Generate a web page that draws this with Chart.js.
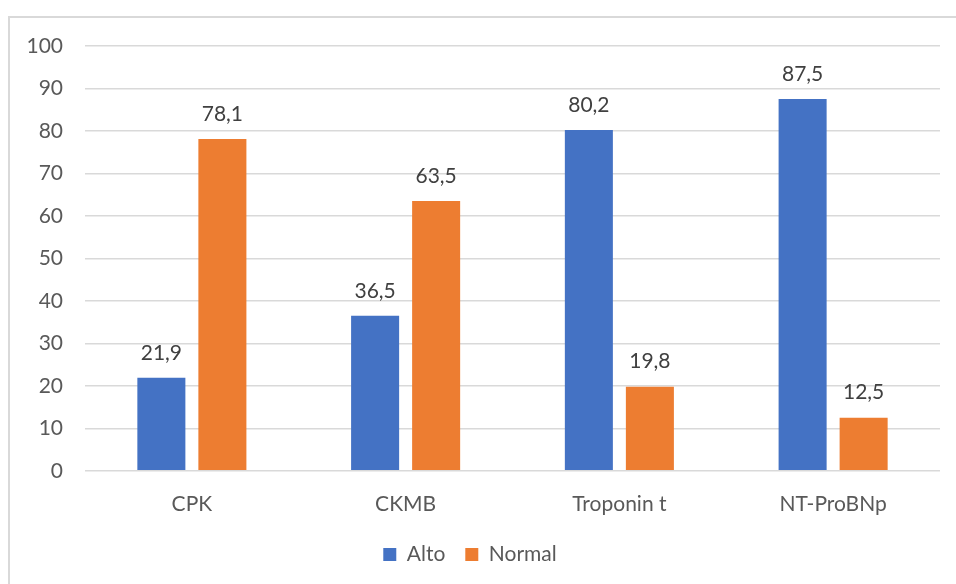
<!DOCTYPE html>
<html>
<head>
<meta charset="utf-8">
<script src="https://cdn.jsdelivr.net/npm/chart.js@4"></script>
<style>
  html, body { margin: 0; padding: 0; background: #fff; }
  #wrap { position: relative; width: 956px; height: 584px; overflow: hidden; }
  #frame { position: absolute; left: 8px; top: 16px; width: 960px; height: 600px;
           border-top: 2px solid #d9d9d9; border-left: 2px solid #d9d9d9; box-sizing: border-box; }
  canvas { position: absolute; left: 0; top: 0; }
</style>
</head>
<body>
<div id="wrap">
  <div id="frame"></div>
  <canvas id="c" width="956" height="584"></canvas>
</div>
<script>
const categories = ['CPK', 'CKMB', 'Troponin t', 'NT-ProBNp'];
const altoValues = [21.9, 36.5, 80.2, 87.5];
const normalValues = [78.1, 63.5, 19.8, 12.5];
const seriesNames = ['Alto', 'Normal'];

const FONT = "Lato, 'Open Sans', sans-serif";
const FSIZE = 21;

// Writes each bar's value above it, with a decimal comma
const valueLabels = {
  id: 'valueLabels',
  afterDatasetsDraw(chart) {
    const ctx = chart.ctx;
    ctx.save();
    ctx.font = FSIZE + 'px ' + FONT;
    ctx.fillStyle = '#404040';
    ctx.textAlign = 'center';
    ctx.textBaseline = 'middle';
    chart.data.datasets.forEach((ds, i) => {
      chart.getDatasetMeta(i).data.forEach((bar, j) => {
        const txt = ds.data[j].toFixed(1).replace('.', ',');
        ctx.fillText(txt, bar.x, bar.y - 25);
      });
    });
    ctx.restore();
  }
};

new Chart(document.getElementById('c'), {
  type: 'bar',
  data: {
    labels: categories,
    datasets: [
      { label: seriesNames[0], data: altoValues, backgroundColor: '#4472C4',
        categoryPercentage: 0.571, barPercentage: 0.787 },
      { label: seriesNames[1], data: normalValues, backgroundColor: '#ED7D31',
        categoryPercentage: 0.571, barPercentage: 0.787 }
    ]
  },
  options: {
    responsive: false,
    animation: false,
    layout: { padding: { top: 46, right: 16, bottom: 9, left: 0 } },
    plugins: {
      tooltip: { enabled: false },
      legend: {
        position: 'bottom',
        labels: {
          font: { size: FSIZE, family: FONT },
          color: '#595959',
          boxWidth: 13, boxHeight: 13,
          padding: 20
        }
      }
    },
    scales: {
      x: {
        afterFit(scale) { scale.height -= 14; },
        grid: { display: false, drawTicks: false },
        border: { display: false },
        ticks: { font: { size: FSIZE, family: FONT }, color: '#595959', padding: 21 }
      },
      y: {
        min: 0, max: 100,
        afterFit(scale) { scale.width = 85; },
        grid: { color: '#d9d9d9', lineWidth: 1.5, drawTicks: false },
        border: { display: false },
        ticks: { stepSize: 10, font: { size: FSIZE, family: FONT }, color: '#595959', padding: 22 }
      }
    }
  },
  plugins: [valueLabels]
});
</script>
</body>
</html>
